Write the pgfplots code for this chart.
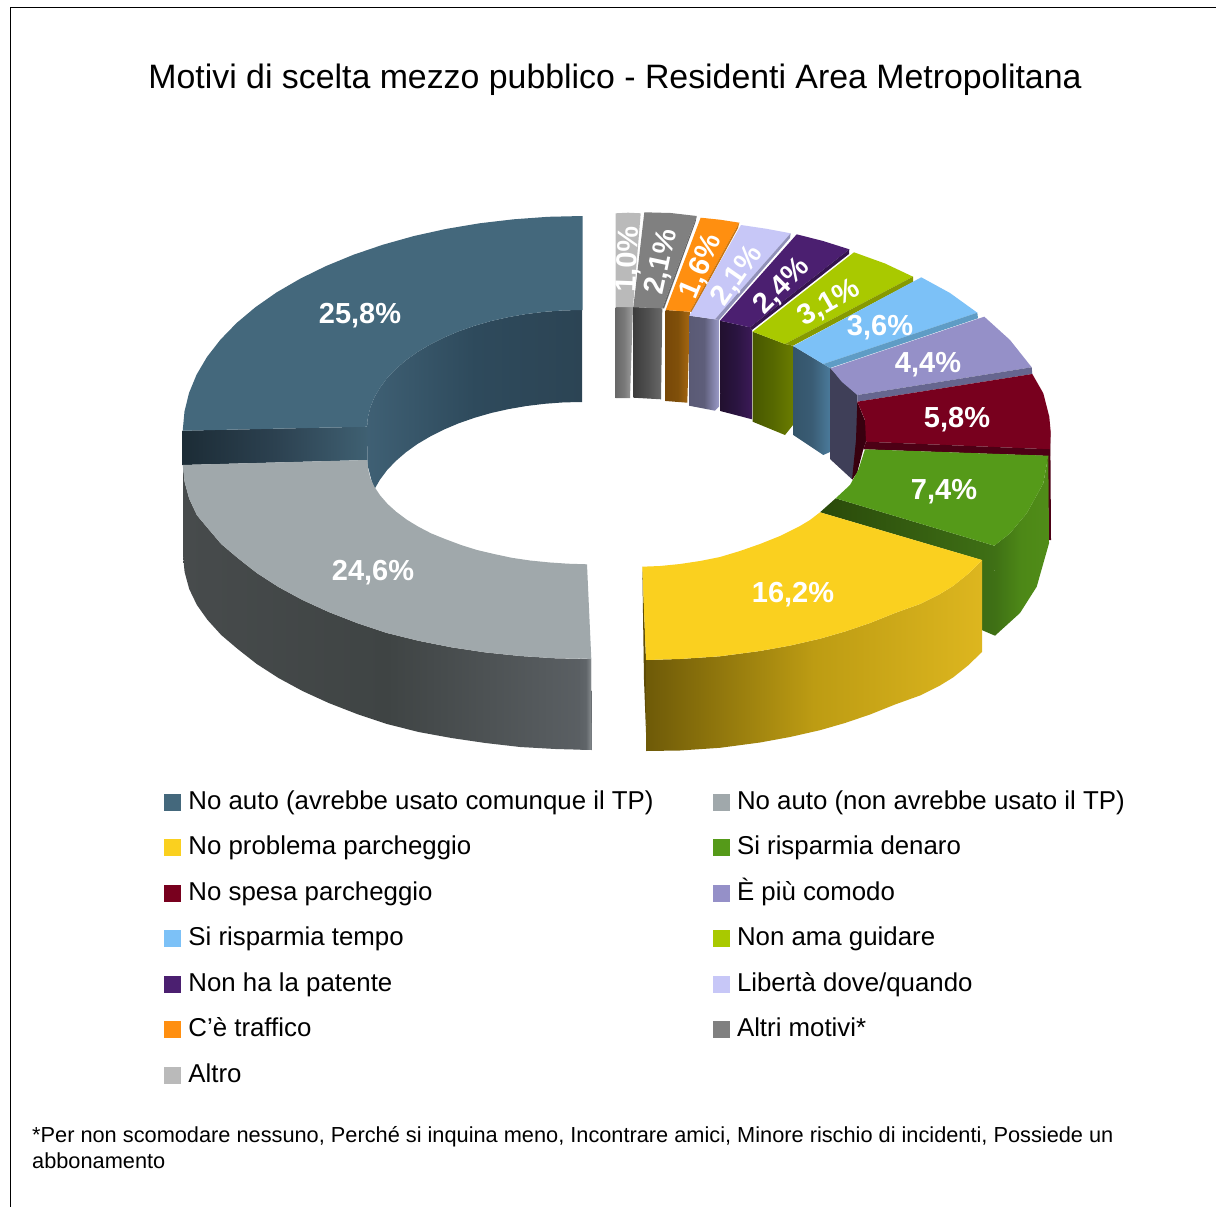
\documentclass[border=0pt]{standalone}
\usepackage{pgfplots}
\pgfplotsset{compat=1.18}
\usepackage{fontspec}
\setmainfont{Liberation Sans}

\definecolor{c1}{HTML}{44687C}
\definecolor{c2}{HTML}{A0A8AB}
\definecolor{c3}{HTML}{FAD01F}
\definecolor{c4}{HTML}{559A19}
\definecolor{c5}{HTML}{78001E}
\definecolor{c6}{HTML}{9590C8}
\definecolor{c7}{HTML}{7CC1F7}
\definecolor{c8}{HTML}{A9C900}
\definecolor{c9}{HTML}{4B1F70}
\definecolor{c10}{HTML}{C7C7F7}
\definecolor{c11}{HTML}{FF8F10}
\definecolor{c12}{HTML}{808080}
\definecolor{c13}{HTML}{BABABA}
% side strips
\definecolor{s11}{HTML}{C87510}
\definecolor{s10}{HTML}{9090B8}
\definecolor{s9}{HTML}{35144F}
\definecolor{s8}{HTML}{869A00}
\definecolor{s7}{HTML}{5F9CC5}
\definecolor{s6}{HTML}{66668F}
\definecolor{w6}{HTML}{3F3F58}
\definecolor{r1}{HTML}{4D0015}
\definecolor{r2}{HTML}{38000F}
\definecolor{y0}{HTML}{5E4C06}

\pgfplotsset{
  face/.style={forget plot,draw=none,fill=#1},
  wall/.code n args={3}{\definecolor{wa}{HTML}{#1}\definecolor{wb}{HTML}{#2}\definecolor{wc}{HTML}{#3}%
    \pgfplotsset{forget plot,draw=none,left color=wa,right color=wc,middle color=wb}},
}
\tikzset{lab/.style={text=white,font=\fontsize{29}{30}\selectfont\bfseries,inner sep=0pt}}

\begin{document}
\begin{tikzpicture}
\useasboundingbox (0,0) rectangle (1216pt,1207pt);
\begin{axis}[
  at={(0,0)},anchor=south west,
  scale only axis,width=1216pt,height=1207pt,
  xmin=0,xmax=1216,ymin=0,ymax=1207,y dir=reverse,
  hide axis,
  title={Motivi di scelta mezzo pubblico - Residenti Area Metropolitana},
  title style={at={(axis description cs:0.5058,0.9287)},anchor=center,inner sep=0pt,font=\fontsize{33.85}{36}\selectfont},
  legend columns=2,
  legend cell align=left,
  legend image code/.code={\fill[#1] (0pt,-8pt) rectangle (16pt,8pt);},
  legend style={
    at={(axis description cs:0.1349,0.3470)},anchor=north west,
    draw=none,fill=none,inner sep=0pt,outer sep=0pt,
    font=\fontsize{25.83}{30}\selectfont,
    nodes={inner sep=0pt,text height=21pt,text depth=7pt},
    row sep=17.5pt,
    /tikz/every odd column/.append style={column sep=8pt},
    /tikz/every even column/.append style={column sep=59pt},
  },
]
% frame
\addplot[forget plot,black,line width=1pt] coordinates {(10.5,1207) (10.5,8) (1216,8)};

% small slices, back row
\addplot[wall={686868}{7A7A7A}{A0A0A0}] coordinates {(615.7,307) (633,307) (630,398) (615.7,398)} -- cycle;
\addplot[face=c13] coordinates {(615.7,213.3) (628,212.7) (640.7,213.3) (633,307) (615.7,307)} -- cycle;

\addplot[wall={3C3C3C}{505050}{6A6A6A}] coordinates {(633.3,307) (662.3,308.3) (661,399.3) (633.3,397.7)} -- cycle;
\addplot[face=c12] coordinates {(644.3,212.3) (670.7,213) (696.7,216) (662.3,308.3) (633.3,307.3)} -- cycle;
\addplot[face=black!60] coordinates {(696.7,216) (695.5,222) (664,308.5) (662.3,308.3)} -- cycle;

\addplot[wall={784808}{80500A}{A86810}] coordinates {(665.7,310) (690,311.7) (687.3,402.7) (665.7,401)} -- cycle;
\addplot[face=c11] coordinates {(700.7,217.7) (720,219.7) (739.3,222.7) (690,311.7) (665.7,310)} -- cycle;
\addplot[face=s11] coordinates {(739.3,222.7) (738,228) (692,312) (690,311.7)} -- cycle;

\addplot[wall={5A5A75}{5E5E7A}{9A9AC8}] coordinates {(689.3,315.7) (715,319.3) (719,320) (719,406.7) (715,410.7) (689,405.7)} -- cycle;
\addplot[face=c10] coordinates {(741,225) (766,228.7) (790.7,233.3) (715,319.3) (689.3,315.7)} -- cycle;
\addplot[face=s10] coordinates {(790.7,233.3) (790,238) (719,320) (715,319.3)} -- cycle;

\addplot[wall={22102F}{2A1440}{3C1A58}] coordinates {(720,320.7) (750,327.3) (752,330) (752,419.3) (720.3,411)} -- cycle;
\addplot[face=c9] coordinates {(796.7,234.3) (823,241) (849.3,249.3) (750,327.3) (720,320.7)} -- cycle;
\addplot[face=s9] coordinates {(849.3,249.3) (849,254) (752,330) (750,327.3)} -- cycle;

\addplot[wall={485800}{566800}{6A7C00}] coordinates {(752.7,331.7) (785,344) (793,345.7) (793,425) (785,435) (752.7,421.7)} -- cycle;
\addplot[face=c8] coordinates {(854,252.3) (885,263.5) (913,276.7) (785,344) (752.7,331.7)} -- cycle;
\addplot[face=s8] coordinates {(913,276.7) (913,282) (793,345.7) (785,344)} -- cycle;

\addplot[wall={34556B}{3A5C74}{4A7A9A}] coordinates {(793.3,346) (823.3,364) (830,368) (830,452) (823.3,455) (793.3,435)} -- cycle;
\addplot[face=c7] coordinates {(921.3,277.3) (950,293) (977.3,312.7) (823.3,364) (793.3,346)} -- cycle;
\addplot[face=s7] coordinates {(977.3,312.7) (978,318.3) (830,368) (823.3,364)} -- cycle;

\addplot[face=w6] coordinates {(830,368) (857.3,395) (857.3,473) (851.7,479) (830,459)} -- cycle;
\addplot[face=c6] coordinates {(984.3,316.7) (1010,340) (1031.7,367.3) (857.3,395) (841.7,381.7) (830.7,368.3)} -- cycle;
\addplot[face=s6] coordinates {(1031.7,367.3) (1032.3,374) (857.3,401.7) (857.3,395)} -- cycle;

% no spesa parcheggio, denaro
\addplot[face=r1] coordinates {(1050.3,431) (1051,540) (1049,540) (1047,455)} -- cycle;
\addplot[face=r2] coordinates {(857.3,401.7) (866,423) (866,441.7) (863.3,449.3) (857.3,472) (852,480) (856,440)} -- cycle;
\addplot[face=c5] coordinates {(857.3,401.7) (1032.3,374) (1043.3,393.3) (1049.3,416.7) (1050.7,432) (1050,449.3) (866,441.7) (865,420)} -- cycle;
\addplot[face=r1] coordinates {(866,441.7) (1050,449.3) (1050,456) (863.3,449.3)} -- cycle;

\addplot[wall={2A4A0A}{345C10}{3F7015}] coordinates {(835.7,498.3) (994.3,545.7) (995,635.7) (981.7,630) (981.7,560) (820,512.3)} -- cycle;
\addplot[wall={3F7015}{4D8817}{508C18}] coordinates {(994.3,545.7) (1010,533.3) (1026.7,513.3) (1043.3,483.3) (1048.3,455.7) (1049,543.3) (1036.7,586.7) (1020,613) (995,635.7)} -- cycle;
\addplot[face=c4] coordinates {(865,449.3) (1048.3,455.7) (1043.3,483.3) (1026.7,513.3) (1010,533.3) (994.3,545.7) (835.7,498.3) (850,485) (858.3,470)} -- cycle;

% first big slice
\addplot[wall={3F6074}{2E4A5C}{2C4454}] coordinates {(582,310) (563.3,310.4) (544.7,311.8) (526.4,314) (508.5,317.1) (491.1,321) (474.5,325.8) (458.7,331.3) (443.8,337.6) (430,344.6) (417.3,352.1) (405.9,360.3) (395.8,369) (387.1,378.1) (380,387.6) (374.3,397.5) (370.3,407.5) (367.8,417.7) (367,428) (367.5,465) (374,490) (380,479.6) (387.1,470.1) (395.8,461) (405.9,452.3) (417.3,444.1) (430,436.6) (443.8,429.6) (458.7,423.3) (474.5,417.8) (491.1,413) (508.5,409.1) (526.4,406) (544.7,403.8) (563.3,402.4) (582,402)} -- cycle;
\addplot[wall={1C2C36}{2C4150}{3F6072}] coordinates {(182.7,430.7) (367.3,426.7) (367.3,460) (182.7,465)} -- cycle;
\addplot[face=c1] coordinates {(582.5,216) (548.1,216.8) (513.6,219.3) (479.5,223.3) (446.2,228.9) (414,236) (383,244.7) (353.6,254.7) (325.9,266.1) (300.2,278.7) (276.6,292.4) (255.3,307.3) (236.6,323) (220.5,339.6) (207.1,356.8) (196.6,374.6) (189.1,392.8) (184.5,411.3) (182.7,430.7) (367.3,426.7) (367.8,417.7) (370.3,407.5) (374.3,397.5) (380,387.6) (387.1,378.1) (395.8,369) (405.9,360.3) (417.3,352.1) (430,344.6) (443.8,337.6) (458.7,331.3) (474.5,325.8) (491.1,321) (508.5,317.1) (526.4,314) (544.7,311.8) (563.3,310.4) (582.5,310)} -- cycle;

% second big slice
\addplot[wall={474B4C}{3F4444}{5C6165}] coordinates {(183,465) (184.6,481.9) (189.2,498.7) (196.9,515.2) (207.6,528) (221.2,544) (237.7,558) (256.8,573) (278.5,587) (302.5,600) (328.7,612) (357,623) (387,633) (418.6,640.8) (451.4,647.3) (485.4,652.4) (520.2,656) (555.4,658.3) (591,659) (591.7,750) (555.4,749) (520.2,747) (485.4,743) (451.4,738) (418.6,732) (387,724) (357,714) (328.7,703) (302.5,691) (278.5,678) (256.8,664) (237.7,649) (221.2,635) (207.6,620) (196.9,605) (189.2,589) (184.6,572) (183,555)} -- cycle;
\addplot[wall={5C6165}{606569}{8A8F92}] coordinates {(580,658.7) (591,659) (591.7,750) (580,749.7)} -- cycle;
\addplot[face=c2] coordinates {(182.7,465) (184.6,481.9) (189.2,498.7) (196.9,515.2) (207.6,528) (221.2,544) (237.7,558) (256.8,573) (278.5,587) (302.5,600) (328.7,612) (357,623) (387,633) (418.6,640.8) (451.4,647.3) (485.4,652.4) (520.2,656) (555.4,658.3) (591.3,658.8) (587,564.3) (568,563.7) (548.8,562.4) (530,560.5) (511.8,557.8) (494,554) (477,550) (461,545) (445.6,539.2) (431.4,533.5) (418.5,526.8) (406.8,519.7) (396.5,512) (387.6,504) (380.3,495.6) (374.5,487) (370.3,478) (368.1,469) (367.3,460)} -- cycle;

% yellow slice
\addplot[face=y0] coordinates {(642.3,566.7) (646,660) (646.7,751) (644,680)} -- cycle;
\addplot[wall={6E5A08}{BD9C13}{DDB61F}] coordinates {(646,660) (680,659) (720,656.3) (760,651) (790,645.6) (820,638.7) (845,631.5) (870,623) (895,613) (920,604) (940,594) (953,586) (968,574) (982,560) (982,652) (968,665.5) (953,677.5) (940,685.5) (920,695.5) (895,704.5) (870,714.5) (845,723) (820,730.2) (790,737) (760,742.5) (720,747.8) (680,750.5) (646.7,751)} -- cycle;
\addplot[face=c3] coordinates {(642.3,566.7) (660,566) (680,564) (700,561) (720,557) (740,551) (760,544) (780,536) (800,526) (810,520) (820,512.3) (982,560) (968,574) (953,586) (940,594) (920,604) (895,613) (870,623) (845,631.5) (820,638.7) (790,645.6) (760,651) (720,656.3) (680,659) (646,660)} -- cycle;

% legend
\addlegendimage{c1}\addlegendentry{No auto (avrebbe usato comunque il TP)}
\addlegendimage{c2}\addlegendentry{No auto (non avrebbe usato il TP)}
\addlegendimage{c3}\addlegendentry{No problema parcheggio}
\addlegendimage{c4}\addlegendentry{Si risparmia denaro}
\addlegendimage{c5}\addlegendentry{No spesa parcheggio}
\addlegendimage{c6}\addlegendentry{È più comodo}
\addlegendimage{c7}\addlegendentry{Si risparmia tempo}
\addlegendimage{c8}\addlegendentry{Non ama guidare}
\addlegendimage{c9}\addlegendentry{Non ha la patente}
\addlegendimage{c10}\addlegendentry{Libertà dove/quando}
\addlegendimage{c11}\addlegendentry{C'è traffico}
\addlegendimage{c12}\addlegendentry{Altri motivi*}
\addlegendimage{c13}\addlegendentry{Altro}

% data labels
\node[lab] at (axis cs:360,316) {25,8\%};
\node[lab] at (axis cs:373,573) {24,6\%};
\node[lab] at (axis cs:793,595) {16,2\%};
\node[lab] at (axis cs:944,492) {7,4\%};
\node[lab] at (axis cs:957,420) {5,8\%};
\node[lab] at (axis cs:928,365) {4,4\%};
\node[lab] at (axis cs:880,328) {3,6\%};
\node[lab,rotate=30] at (axis cs:829,303.5) {3,1\%};
\node[lab,rotate=45] at (axis cs:782,286.5) {2,4\%};
\node[lab,rotate=55] at (axis cs:737.4,275.5) {2,1\%};
\node[lab,rotate=67] at (axis cs:701.6,266.5) {1,6\%};
\node[lab,rotate=78] at (axis cs:662,262) {2,1\%};
\node[lab,rotate=88] at (axis cs:629,259.5) {1,0\%};

% footnote
\node[anchor=base west,inner sep=0pt,font=\fontsize{21.76}{26}\selectfont,align=left] at (axis cs:32,1168)
  {*Per non scomodare nessuno, Perché si inquina meno, Incontrare amici, Minore rischio di incidenti, Possiede un\\abbonamento};
\end{axis}
\end{tikzpicture}
\end{document}
